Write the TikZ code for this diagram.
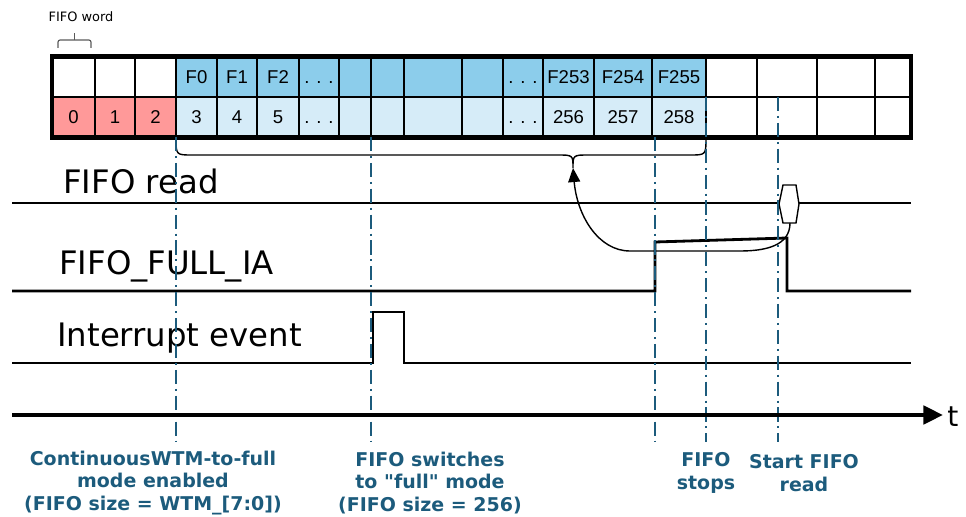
\documentclass[tikz,border=0pt]{standalone}
\usepackage{fontspec}
\setmainfont{DejaVu Sans}
\newfontfamily\cellfont{Liberation Sans}
\usetikzlibrary{arrows.meta,positioning,calc}
\definecolor{fifoRed}{HTML}{FF9999}
\definecolor{fifoBlue}{HTML}{8CCDEB}
\definecolor{fifoLight}{HTML}{D6ECF8}
\definecolor{fifoTeal}{HTML}{1C5B7C}
\definecolor{fifoGrey}{HTML}{5A5A5A}
\tikzset{
  >={Triangle[length=10pt,width=8.5pt]},
  cell/.style={draw=black, line width=1.4pt, inner sep=0pt, outer sep=0pt,
              minimum height={40.5*0.025cm}, text height=9.4pt, text depth=0pt,
              font=\cellfont\fontsize{13.2}{15}\selectfont},
  sig/.style={line width=2pt, line join=miter},
  evline/.style={draw=fifoTeal, line width=1.1pt,
              dash pattern=on 10pt off 3.5pt on 1.4pt off 3.5pt},
  siglbl/.style={anchor=base west, inner sep=0pt, font=\fontsize{23}{28}\selectfont},
  note/.style={align=center, inner sep=0pt, text=fifoTeal,
              font=\bfseries\fontsize{13.5}{16}\selectfont},
}

\begin{document}
\begin{tikzpicture}[x=0.025cm,y=-0.025cm]
  \useasboundingbox (0,0) rectangle (966,517);
  % buffer cells
  \foreach \i/\xa/\xb/\fa/\fb/\ta/\tb in {
      1/52/95/white/fifoRed/{}/0, 2/95/135/white/fifoRed/{}/1, 3/135/176/white/fifoRed/{}/2,
      4/176/217/fifoBlue/fifoLight/F0/3, 5/217/257/fifoBlue/fifoLight/F1/4,
      6/257/299/fifoBlue/fifoLight/F2/5, 7/299/339/fifoBlue/fifoLight/{. . .}/{. . .},
      8/339/371/fifoBlue/fifoLight/{}/{}, 9/371/404/fifoBlue/fifoLight/{}/{},
      10/404/462/fifoBlue/fifoLight/{}/{}, 11/462/503/fifoBlue/fifoLight/{}/{},
      12/503/543/fifoBlue/fifoLight/{. . .}/{. . .}, 13/543/594/fifoBlue/fifoLight/F253/256,
      14/594/652/fifoBlue/fifoLight/F254/257, 15/652/706/fifoBlue/fifoLight/F255/258,
      16/706/757/white/white/{}/{}, 17/757/817/white/white/{}/{},
      18/817/875/white/white/{}/{}, 19/875/911/white/white/{}/{}}{
    \node[cell,fill=\fa,minimum width={(\xb-\xa)*0.025cm}] (w\i) at ({(\xa+\xb)/2},76.5) {\ta};
    \node[cell,fill=\fb,minimum width={(\xb-\xa)*0.025cm}] (s\i) at ({(\xa+\xb)/2},117) {\tb};
  }
  \draw[line width=3.5pt] (w1.north west) rectangle (s19.south east);
  % word size
  \node[inner sep=0pt, font=\fontsize{9.2}{11}\selectfont] (wl) at (81,17) {FIFO word};
  \draw[fifoGrey, line width=0.8pt, rounded corners=1.5pt] (58,48) -- (58,40) -- (91,40) -- (91,48);
  \draw[fifoGrey, line width=0.8pt] (74.5,40) -- (74.5,33);
  % brace under the filled words
  \coordinate (bt) at (573,168);
  \draw[line width=1pt] (s4.south west) .. controls (176,155) .. (192,155) -- (557,155)
       .. controls (573,155) .. (bt) .. controls (573,155) .. (589,155) -- (690,155)
       .. controls (706,155) .. (s15.south east);
  % signals
  \node[siglbl] (rdl) at (63,194) {FIFO read};
  \node[siglbl] (fll) at (59,275) {FIFO\_FULL\_IA};
  \node[siglbl] (irl) at (57,347) {Interrupt event};
  \draw[sig] (12,203) -- (911,203);
  \draw[sig] (12,291) -- (655,291) -- (655,242) -- (787,238) -- (787,291) -- (911,291);
  \draw[sig] (12,363) -- (373,363) -- (373,312) -- (404,312) -- (404,363) -- (911,363);
  \draw[line width=1pt, fill=white] (779,204) -- (783,185) -- (796,185) -- (799,204)
       -- (796,223) -- (783,223) -- cycle;
  \coordinate (rd) at (790,223);
  \draw[->, line width=1pt] (rd) .. controls (790,246) and (765,251) .. (740,251) -- (630,251)
       .. controls (598,251) and (577,215) .. (bt);
  % event markers
  \foreach \x/\ya in {176/137, 371/137, 655/137, 706/97, 778/97}
    \draw[evline] (\x,\ya) -- (\x,442);
  % time axis
  \coordinate (t0) at (12,415);
  \coordinate (t1) at (943,415);
  \draw[line width=2.8pt, -{Triangle[length=14pt,width=13pt]}] (t0) -- (t1);
  \node[anchor=base west, inner sep=0pt, font=\fontsize{20}{24}\selectfont] (tl) at (947,427) {t};
  % captions
  \node[note] (n1) at (153,483) {ContinuousWTM-to-full\\mode enabled\\(FIFO size = WTM\_[7:0])};
  \node[note] (n2) at (430,483) {FIFO switches\\to \textquotedbl full\textquotedbl{} mode\\(FIFO size = 256)};
  \node[note] (n3) at (706,473) {FIFO\\stops};
  \node[note] (n4) at (804,473) {Start FIFO\\read};
\end{tikzpicture}
\end{document}
